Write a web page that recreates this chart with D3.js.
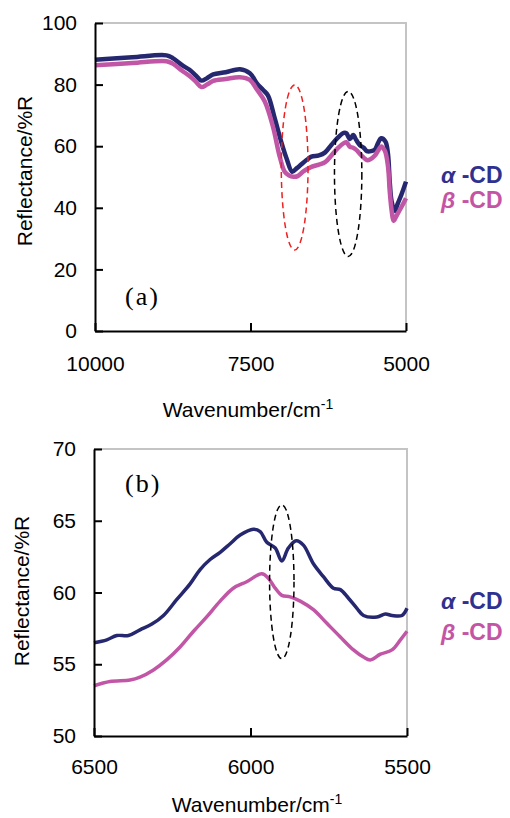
<!DOCTYPE html>
<style>
body { margin: 0; background: #fff; }
svg { font-family: "Liberation Sans", Arial, sans-serif; }
.tick text { font-size: 21px; fill: #000; }
</style>
<script src="https://d3js.org/d3.v7.min.js"></script>
<svg width="510" height="818"></svg>
<script>
// panel (a): full range
var topAlphaWave = [10000, 9400, 8850, 8750, 8600, 8480, 8380, 8290, 8200, 8100, 7900, 7670, 7510, 7400, 7300, 7220, 7110, 7000, 6920, 6830, 6760, 6700, 6600, 6520, 6400, 6300, 6200, 6100, 6000, 5960, 5900, 5850, 5800, 5740, 5680, 5630, 5560, 5500, 5450, 5400, 5330, 5290, 5260, 5230, 5180, 5130, 5070, 5000];
var topAlpha = [88.1, 88.9, 89.5, 88.6, 86.3, 84.8, 83.0, 81.3, 82.1, 83.3, 84.0, 85.0, 83.7, 80.5, 78.3, 76.5, 69.0, 61.0, 56.0, 51.7, 52.8, 53.8, 55.5, 56.6, 57.0, 58.0, 60.4, 62.7, 64.3, 64.2, 62.3, 63.6, 62.0, 60.3, 59.5, 58.4, 58.4, 58.9, 61.0, 62.6, 61.5, 57.5, 48.0, 42.0, 39.0, 41.5, 44.5, 48.5];
var topBetaWave = [10000, 9400, 8850, 8750, 8600, 8480, 8380, 8290, 8200, 8100, 7900, 7670, 7510, 7400, 7270, 7140, 7030, 6950, 6880, 6810, 6740, 6650, 6520, 6400, 6300, 6200, 6100, 6000, 5960, 5900, 5850, 5800, 5740, 5680, 5630, 5580, 5500, 5450, 5400, 5340, 5290, 5260, 5230, 5200, 5150, 5080, 5000];
var topBeta = [86.3, 87.0, 87.6, 86.8, 84.5, 82.8, 81.0, 79.2, 80.0, 81.2, 81.8, 82.4, 81.5, 78.5, 74.5, 66.4, 56.6, 51.7, 50.5, 50.1, 50.3, 51.8, 53.3, 54.0, 54.8, 57.0, 59.3, 61.0, 61.3, 59.8, 59.5, 58.8, 57.5, 56.3, 55.5, 55.7, 57.0, 58.5, 59.9, 58.5, 53.5, 45.0, 39.0, 35.8, 37.5, 40.0, 43.1];

// panel (b): 6500-5500 detail
var botAlphaWave = [6500, 6459, 6427, 6390, 6353, 6315, 6278, 6236, 6193, 6161, 6129, 6097, 6065, 6033, 5991, 5969, 5948, 5921, 5900, 5879, 5854, 5831, 5799, 5767, 5735, 5713, 5687, 5660, 5639, 5596, 5569, 5548, 5516, 5500];
var botAlpha = [56.5, 56.7, 57.0, 57.0, 57.4, 57.8, 58.4, 59.5, 60.6, 61.6, 62.3, 62.8, 63.4, 64.0, 64.4, 64.25, 63.5, 63.1, 62.2, 63.1, 63.6, 63.3, 62.0, 61.1, 60.3, 60.2, 59.6, 58.9, 58.4, 58.3, 58.5, 58.4, 58.4, 58.9];
var botBetaWave = [6500, 6449, 6385, 6353, 6310, 6268, 6225, 6182, 6140, 6097, 6055, 6012, 5964, 5943, 5921, 5900, 5873, 5841, 5799, 5756, 5713, 5671, 5639, 5617, 5585, 5548, 5521, 5500];
var botBeta = [53.5, 53.8, 53.9, 54.1, 54.6, 55.3, 56.2, 57.3, 58.3, 59.4, 60.3, 60.75, 61.3, 61.0, 60.3, 59.8, 59.7, 59.4, 58.8, 57.85, 56.9, 56.0, 55.5, 55.3, 55.7, 56.0, 56.7, 57.3];

var topXTicks = [10000, 7500, 5000], topYTicks = [0, 20, 40, 60, 80, 100];
var botXTicks = [6500, 6000, 5500], botYTicks = [50, 55, 60, 65, 70];

// dashed marks: [centre wave, centre value, half width (wave), half height (value), colour]
var topMarks = [[6790, 53.1, 215, 26.8, "#ee2020"], [5930, 51, 220, 26.8, "#000"]];
var botMarks = [[5900, 60.75, 39, 5.36, "#000"]];

var navy = "#25276f", pink = "#c256a6";
var svg = d3.select("svg");

function panel(o) {
  var x = d3.scaleLinear().domain(o.xd).range([o.l, o.r]);
  var y = d3.scaleLinear().domain(o.yd).range([o.b, o.t]);
  var g = svg.append("g");

  // grey top/right border
  g.append("path")
      .attr("d", "M" + o.l + "," + o.t + "H" + o.r + "V" + o.b)
      .attr("fill", "none").attr("stroke", "#c4c4c4").attr("stroke-width", 2);

  var line = d3.line().curve(d3.curveCatmullRom.alpha(0.5))
      .x(function(d) { return x(d[0]); })
      .y(function(d) { return y(d[1]); });

  [[o.aw, o.a, navy], [o.bw, o.bv, pink]].forEach(function(s) {
    g.append("path")
        .datum(d3.zip(s[0], s[1]))
        .attr("fill", "none")
        .attr("stroke", s[2])
        .attr("stroke-width", o.lw)
        .attr("stroke-linejoin", "round")
        .attr("d", line);
  });

  o.marks.forEach(function(m) {
    g.append("ellipse")
        .attr("cx", x(m[0])).attr("cy", y(m[1]))
        .attr("rx", Math.abs(x(m[0] + m[2]) - x(m[0])))
        .attr("ry", Math.abs(y(m[1] + m[3]) - y(m[1])))
        .attr("fill", "none").attr("stroke", m[4])
        .attr("stroke-width", 1.5).attr("stroke-dasharray", "6,4");
  });

  var ya = g.append("g").attr("transform", "translate(" + o.l + ",0)")
      .call(d3.axisLeft(y).tickValues(o.yt).tickSize(-8).tickSizeOuter(0).tickPadding(18));
  var xa = g.append("g").attr("transform", "translate(0," + o.b + ")")
      .call(d3.axisBottom(x).tickValues(o.xt).tickSize(-8).tickSizeOuter(0).tickPadding(o.xpad).tickFormat(d3.format("d")));
  [ya, xa].forEach(function(a) {
    a.select(".domain").attr("stroke", "#000").attr("stroke-width", 2);
    a.selectAll(".tick line").attr("stroke", "#000").attr("stroke-width", 2);
    a.attr("font-family", null).attr("font-size", null);
  });

  g.append("text")
      .attr("transform", "translate(" + o.ytx + "," + o.yty + ") rotate(-90)")
      .attr("text-anchor", "middle").attr("font-size", 21)
      .text("Reflectance/%R");

  var xt = g.append("text")
      .attr("x", o.xtx).attr("y", o.xty)
      .attr("text-anchor", "middle").attr("font-size", 21)
      .text("Wavenumber/cm");
  xt.append("tspan").attr("dy", -8).attr("font-size", 14).text("-1");

  g.append("text")
      .attr("x", o.tagx).attr("y", o.tagy)
      .attr("font-family", "'Liberation Serif', 'Times New Roman', serif")
      .attr("font-size", 26).attr("letter-spacing", 2)
      .text(o.tag);

  [["\u03b1", "#2e3190", o.ly[0]], ["\u03b2", "#c554a5", o.ly[1]]].forEach(function(l) {
    var t = g.append("text")
        .attr("x", 441).attr("y", l[2])
        .attr("font-size", 23).attr("font-weight", "bold").attr("fill", l[1]);
    t.append("tspan").attr("font-style", "italic").text(l[0]);
    t.append("tspan").text(" -CD");
  });
}

panel({
  xd: [10000, 5000], yd: [0, 100], l: 95, r: 406, t: 23, b: 331,
  aw: topAlphaWave, a: topAlpha, bw: topBetaWave, bv: topBeta, lw: 4.5,
  xt: topXTicks, yt: topYTicks, marks: topMarks, xpad: 25,
  ytx: 32, yty: 171, xtx: 248, xty: 417, tag: "(a)", tagx: 125, tagy: 305,
  ly: [183, 208]
});

panel({
  xd: [6500, 5500], yd: [50, 70], l: 94, r: 407, t: 449, b: 736,
  aw: botAlphaWave, a: botAlpha, bw: botBetaWave, bv: botBeta, lw: 3.5,
  xt: botXTicks, yt: botYTicks, marks: botMarks, xpad: 23,
  ytx: 29, yty: 591, xtx: 257, xty: 812, tag: "(b)", tagx: 125, tagy: 492,
  ly: [609, 640]
});
</script>
